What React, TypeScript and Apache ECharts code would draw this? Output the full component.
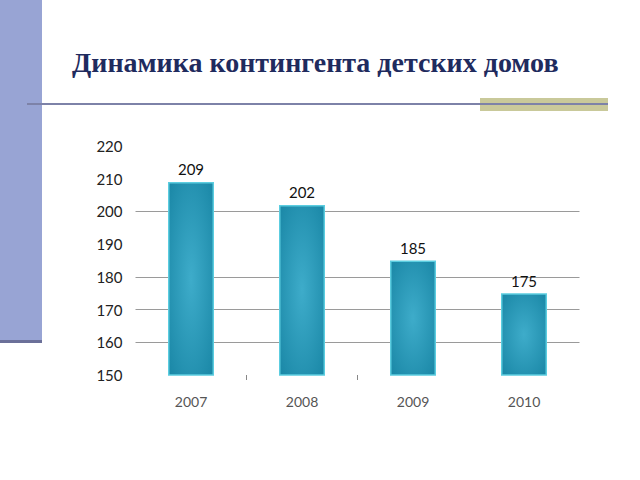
import React, { useEffect, useRef } from "react";
import * as echarts from "echarts";

const titleText = "Динамика контингента детских домов";
const years = ["2007", "2008", "2009", "2010"];
const counts = [209, 202, 185, 175];
const yMin = 150;
const yMax = 220;
const yStep = 10;
const tickPositions = [1, 2];

export default function App() {
  const ref = useRef<HTMLDivElement>(null);
  useEffect(() => {
    if (!ref.current) return;
    const chart = echarts.init(ref.current, null, { renderer: "svg" });
    const barFill = new echarts.graphic.RadialGradient(0.5, 0.5, 0.7, [
      { offset: 0, color: "#3eacca" },
      { offset: 1, color: "#1a87a6" },
    ]);
    chart.setOption({
      animation: false,
      backgroundColor: "#ffffff",
      title: {
        text: titleText,
        left: 67,
        top: 43,
        textStyle: {
          fontFamily: "Liberation Serif",
          fontWeight: "bold",
          fontSize: 28,
          color: "#1f2b5e",
        },
      },
      graphic: [
        { type: "rect", shape: { x: 0, y: 0, width: 42, height: 341 }, style: { fill: "#98a4d4" } },
        { type: "rect", shape: { x: 0, y: 340, width: 42, height: 3 }, style: { fill: "#6b7099" } },
        { type: "rect", shape: { x: 480, y: 98, width: 128, height: 13 }, style: { fill: "#c9c99a" } },
        { type: "line", shape: { x1: 27, y1: 104, x2: 608, y2: 104 }, style: { stroke: "#7d82a8", lineWidth: 2 } },
      ],
      grid: { left: 135.5, right: 60.5, top: 146, bottom: 105 },
      xAxis: [
        {
          type: "category",
          data: years,
          axisLine: { show: false },
          axisTick: { show: false },
          axisLabel: { color: "#555", fontFamily: "Lato", fontSize: 14, margin: 19 },
        },
        {
          type: "value",
          position: "bottom",
          min: 0,
          max: years.length,
          interval: 1,
          axisLine: { show: false },
          axisLabel: { show: false },
          splitLine: { show: false },
          axisTick: {
            show: true,
            length: 5,
            customValues: tickPositions,
            lineStyle: { color: "#888" },
          },
        },
      ],
      yAxis: {
        type: "value",
        min: yMin,
        max: yMax,
        interval: yStep,
        axisLine: { show: false },
        axisTick: { show: false },
        axisLabel: { color: "#222", fontFamily: "Lato", fontSize: 15, margin: 13 },
        splitLine: {
          show: true,
          lineStyle: {
            color: [
              "rgba(0,0,0,0)",
              "#9a9a9a",
              "#9a9a9a",
              "#9a9a9a",
              "rgba(0,0,0,0)",
              "#9a9a9a",
              "rgba(0,0,0,0)",
              "rgba(0,0,0,0)",
            ],
            width: 1,
          },
        },
      },
      series: [
        {
          type: "bar",
          xAxisIndex: 0,
          data: counts,
          barWidth: 46,
          itemStyle: { color: barFill, borderColor: "#5ccde0", borderWidth: 1.5 },
          label: {
            show: true,
            position: "top",
            distance: 5,
            color: "#111",
            fontFamily: "Lato",
            fontSize: 15,
          },
        },
      ],
    });
    return () => chart.dispose();
  }, []);
  return <div ref={ref} style={{ position: "fixed", left: 0, top: 0, width: 640, height: 480 }} />;
}
